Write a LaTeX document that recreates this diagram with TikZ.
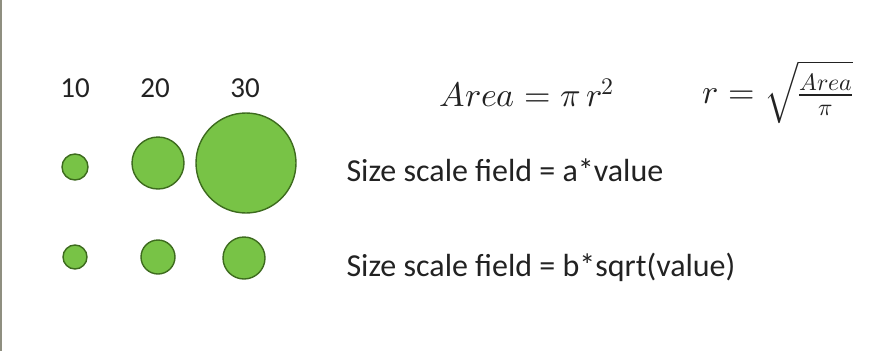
\documentclass[tikz,border=0pt]{standalone}
\usepackage{fontspec}
\usepackage{unicode-math}
\setmainfont{Carlito}
\setmathfont{Latin Modern Math}
\usetikzlibrary{positioning}
\definecolor{dotfill}{HTML}{78C346}
\definecolor{dotline}{HTML}{3D6B1E}
\definecolor{txt}{HTML}{222222}
\definecolor{edge}{HTML}{8F8F80}

\begin{document}
\begin{tikzpicture}[
  x=1pt, y=-1pt,
  every node/.append style={text=txt},
  dot/.style={circle, draw=dotline, line width=1.4pt, fill=dotfill, inner sep=0pt},
  num/.style={font=\fontsize{29}{34}\selectfont},
  rule/.style={anchor=west, font=\fontsize{32}{36}\selectfont},
  eq/.style={font=\fontsize{34}{40}\selectfont},
]
\useasboundingbox (0,0) rectangle (888,351);

% Frame edge
\draw[edge, line width=2pt] (1,0) -- (1,351);

% Values
\node[num] (n10) at (75,88) {10};
\node[num] (n20) at (155,88) {20};
\node[num] (n30) at (245,88) {30};

% Linear scaling
\node[dot, minimum size=26] (a10) at (75,167) {};
\node[dot, minimum size=52] (a20) at (158,163) {};
\node[dot, minimum size=100] (a30) at (246,163) {};
\node[rule] (lin) at (343,170) {Size scale field = a*value};

% Square-root scaling
\node[dot, minimum size=24] (b10) at (75,257) {};
\node[dot, minimum size=34] (b20) at (158,257) {};
\node[dot, minimum size=42] (b30) at (244,258) {};
\node[rule] (sqr) at (343,267) {Size scale field = b*sqrt(value)};

% Formulas
\node[eq] (area) at (527,93) {$Area = \pi\, r^2$};
\node[eq] (rad) at (778,92) {$r = \sqrt{\frac{Area}{\pi}}$};

\end{tikzpicture}
\end{document}
